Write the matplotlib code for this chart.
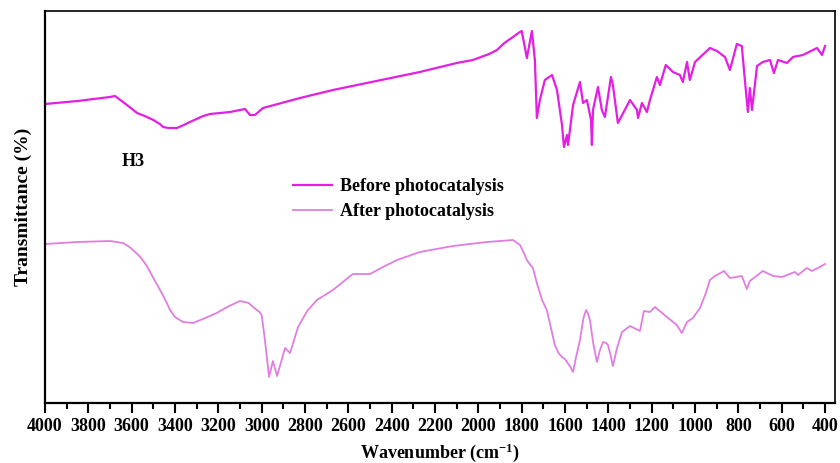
import matplotlib
matplotlib.use("Agg")
import matplotlib.pyplot as plt
from matplotlib.ticker import MultipleLocator, NullLocator

# Wavenumbers (cm-1) and transmittance (arbitrary units)
before_wn = [4000, 3850, 3700, 3677, 3640, 3610, 3575, 3540, 3500, 3470, 3455, 3430,
             3391, 3360, 3331, 3270, 3238, 3146,
             3077, 3054, 3031, 2994, 2823, 2671, 2270, 2100, 2025, 1950, 1914, 1880,
             1840, 1815, 1800, 1776, 1753,
             1739, 1730, 1716, 1693, 1660, 1637, 1614, 1605, 1591, 1586, 1563, 1531,
             1517, 1499, 1480, 1476, 1471, 1448, 1430, 1416, 1388, 1379, 1356, 1300,
             1268, 1263, 1245, 1222, 1208, 1176, 1162, 1135, 1102, 1070, 1056, 1037,
             1024, 1000, 931, 899, 862, 839, 807, 784, 770, 756, 747, 737, 714, 687,
             654, 636, 617, 576, 548, 502, 437, 414, 400]
before_t = [299, 302, 306, 307, 301, 296, 290, 287, 283, 279, 276, 275,
            275, 278, 281, 287, 289, 291,
            294, 288, 288, 295, 305, 313, 331, 340, 343, 349, 353, 360,
            366, 370, 372, 345, 372,
            343, 285, 303, 323, 328, 313, 278, 256, 268, 258, 298, 321,
            300, 303, 283, 258, 293, 316, 293, 286, 326, 318, 280, 303,
            293, 285, 300, 291, 303, 326, 318, 338, 331, 328, 321, 341,
            323, 341, 355, 352, 346, 333, 359, 357, 323, 291, 315, 293, 337, 341,
            343, 330, 343, 340, 346, 348, 355, 348, 357]

after_wn = [4000, 3850, 3700, 3640, 3610, 3594, 3560, 3530, 3500, 3469, 3440, 3423,
            3400, 3363, 3317, 3260, 3208, 3150, 3100, 3060, 3040, 3010,
            3000, 2985, 2966, 2948, 2929, 2892, 2869, 2832, 2790, 2745, 2671, 2579,
            2500, 2440, 2375, 2270, 2117, 1960, 1840, 1808, 1790, 1776, 1760, 1748,
            1730, 1706, 1684, 1665, 1647, 1630, 1614, 1600, 1591, 1575, 1563, 1550,
            1531, 1515, 1503, 1495, 1485, 1470, 1453, 1440, 1425, 1410, 1402, 1390,
            1379, 1360, 1337, 1300, 1254,
            1236, 1208, 1185, 1130, 1084, 1061, 1037, 1010, 977, 950, 931, 908, 866, 839,
            784, 761, 747, 687, 640, 599, 539, 525, 484, 461, 424, 400]
after_t = [159, 161, 162, 160, 156, 153, 146, 137, 125, 113, 101, 93,
           86, 81, 80, 85, 90, 97, 102, 100, 96, 91,
           88, 63, 26, 42, 27, 55, 50, 76, 92, 103, 113, 129,
           129, 136, 143, 151, 157, 161, 163, 158, 150, 143, 138, 135,
           120, 103, 93, 75, 58, 50, 46, 44, 41, 36, 31, 45,
           63, 85, 93, 90, 83, 60, 41, 52, 61, 60, 58, 48,
           37, 55, 71, 77, 72,
           92, 91, 96, 86, 78, 70, 81, 85, 95, 110, 123, 127, 132, 125,
           127, 114, 122, 132, 127, 126, 131, 128, 135, 132, 136, 139]

series_labels = ["Before photocatalysis", "After photocatalysis"]
sample_label = "H3"

plt.rcParams['font.family'] = ['Liberation Serif', 'DejaVu Serif']
plt.rcParams['font.weight'] = 'bold'
plt.rcParams['mathtext.fontset'] = 'custom'
plt.rcParams['mathtext.rm'] = 'Liberation Serif:bold'
plt.rcParams['mathtext.bf'] = 'Liberation Serif:bold'
plt.rcParams['mathtext.default'] = 'rm'

fig = plt.figure(figsize=(8.4, 4.63), dpi=100)
ax = fig.add_axes([45/840, 60/463, 790/840, 392/463])

ax.plot(before_wn, before_t, color='#E21FE2', lw=1.6, label=series_labels[0])
ax.plot(after_wn, after_t, color='#E07EE0', lw=1.3, label=series_labels[1])

ax.set_xlim(4000, 354)
ax.set_ylim(0, 392)
ax.xaxis.set_major_locator(MultipleLocator(200))
ax.xaxis.set_minor_locator(MultipleLocator(100))
ax.yaxis.set_major_locator(NullLocator())
ax.yaxis.set_minor_locator(NullLocator())
ax.tick_params(axis='x', which='major', direction='out', length=7, width=1.5,
               labelsize=13, pad=4)
ax.tick_params(axis='x', which='minor', direction='out', length=4, width=1.5)
for lab in ax.get_xticklabels():
    lab.set_fontweight('bold')

for side in ['left', 'bottom']:
    ax.spines[side].set_linewidth(1.6)
for side in ['top', 'right']:
    ax.spines[side].set_linewidth(1.2)

ax.set_xlabel('Wavenumber (cm$^{-1}$)', fontsize=13, fontweight='bold', labelpad=4.5)
ax.set_ylabel('Transmittance (%)', fontsize=14, fontweight='bold', labelpad=9)

ax.text((133 - 45) / 790, (403 - 161) / 392, sample_label, transform=ax.transAxes,
        fontsize=13, fontweight='bold', ha='center', va='center')

leg = ax.legend(loc='upper left', bbox_to_anchor=((293 - 45) / 790, (403 - 178) / 392),
                frameon=False, borderpad=0, borderaxespad=0,
                handlelength=2.15, handletextpad=0.45, labelspacing=0.45,
                prop={'weight': 'bold', 'size': 13})

fig.savefig('out.png', dpi=100)
